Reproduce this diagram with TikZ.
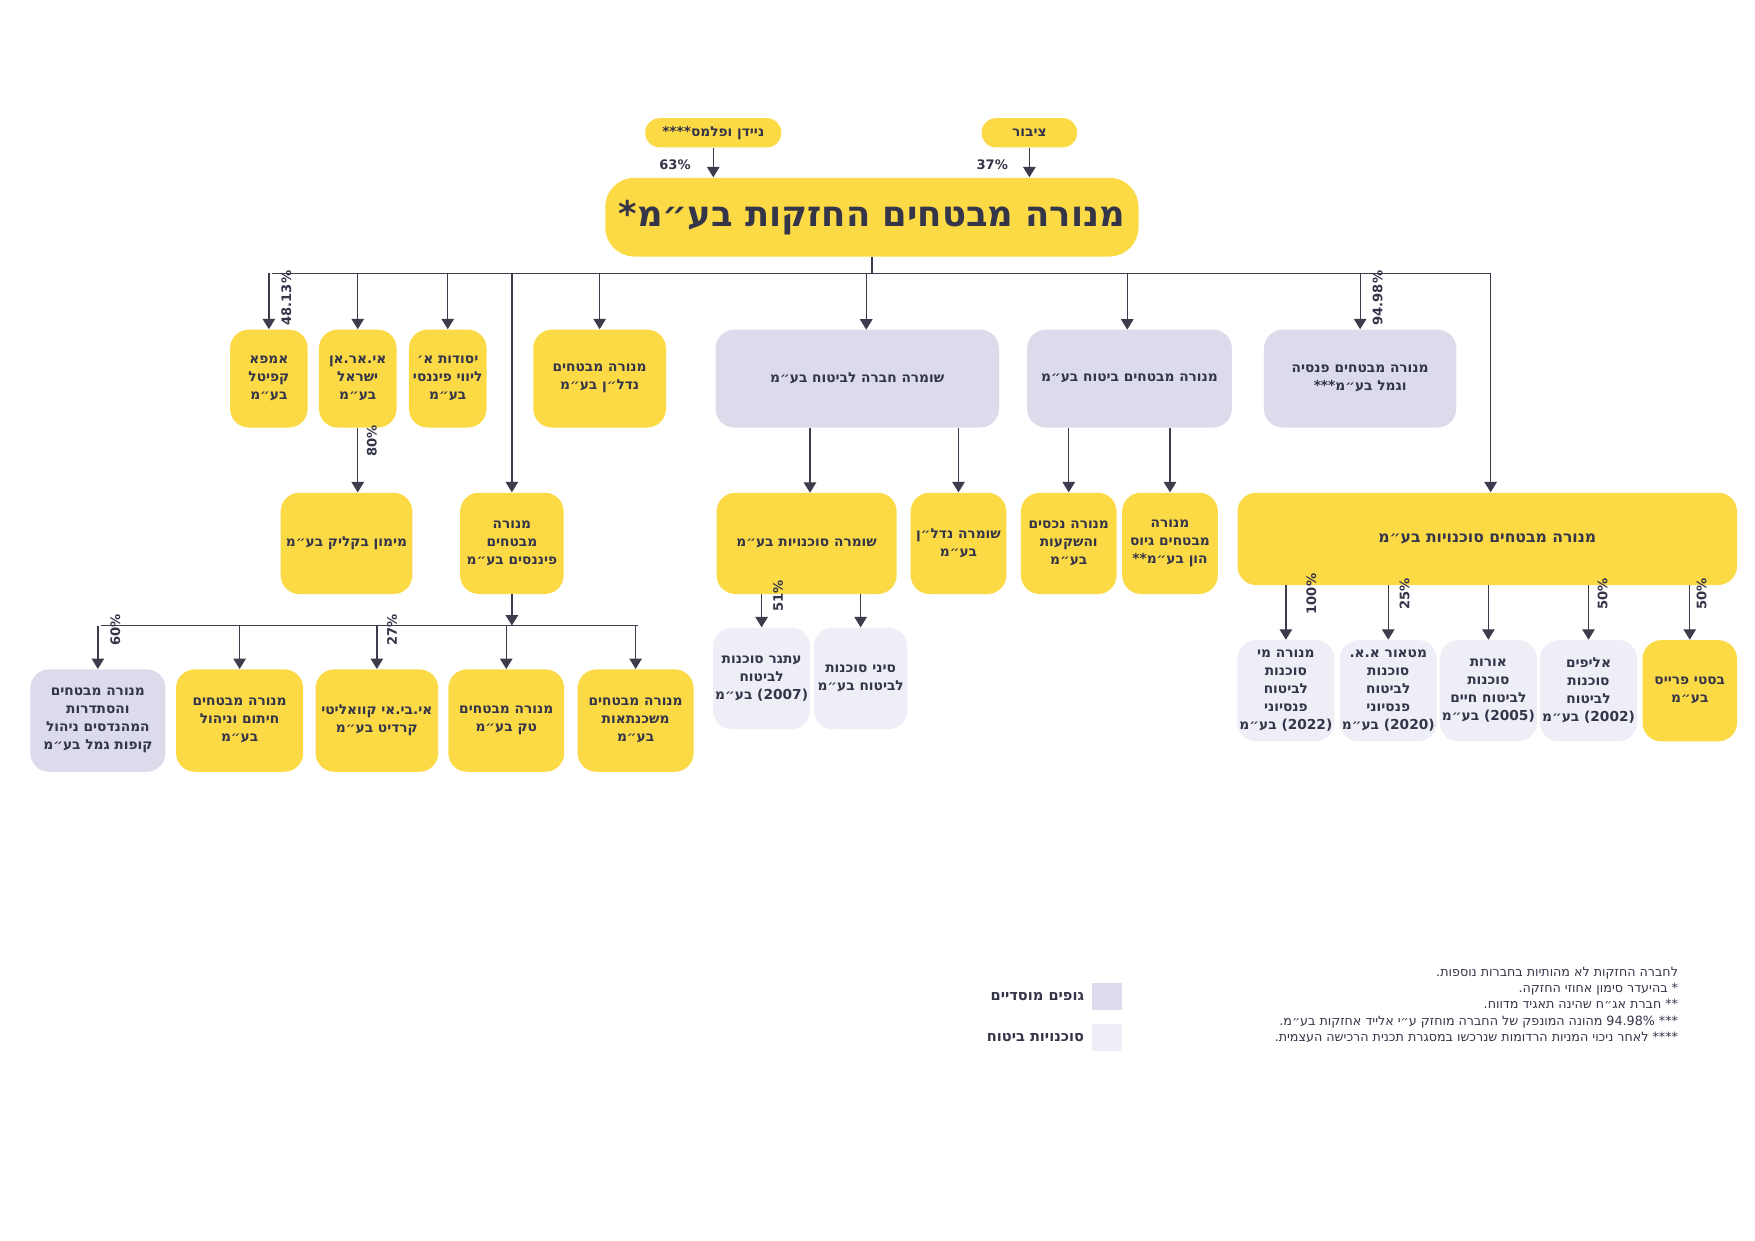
\documentclass[tikz,border=0pt]{standalone}
\usepackage{fontspec}
\setmainfont{DejaVu Sans}
\usepackage{xcolor}
\usetikzlibrary{arrows.meta}
\TeXXeTstate=1
\definecolor{mmyellow}{HTML}{FCDA45}
\definecolor{mmlav}{HTML}{DCDBEC}
\definecolor{mmpale}{HTML}{EDEEF6}
\definecolor{mmtext}{HTML}{35354A}
\definecolor{mmline}{HTML}{3C3C4C}
\newcommand{\heb}[1]{\beginR #1\endR}

\tikzset{
  box/.style={rounded corners=9pt, align=center, text=mmtext, inner sep=1pt,
    font=\bfseries\fontsize{6.6}{8.6}\selectfont},
  ybox/.style={box, fill=mmyellow},
  lbox/.style={box, fill=mmlav},
  pbox/.style={box, fill=mmpale},
  sz/.style 2 args={minimum width=#1*0.019cm, minimum height=#2*0.019cm},
  arr/.style={mmline, semithick, -{Triangle[length=5pt,width=6pt]}},
  bus/.style={mmline, semithick},
  pct/.style={rotate=90, font=\bfseries\fontsize{6.3}{7}\selectfont, text=mmtext, inner sep=1pt}
}

\begin{document}
\begin{tikzpicture}[x=0.019cm, y=-0.019cm]
\useasboundingbox[fill=white] (0,0) rectangle (1560,1103);

% owners
\node[ybox, sz={85}{26}, rounded corners=7pt] (zibur) at (915,118) {\heb{ציבור}};
\node[ybox, sz={121}{26}, rounded corners=7pt] (naydan) at (634,118) {\heb{ניידן ופלמס****}};
\node[box, fill=mmyellow, sz={474}{70}, rounded corners=14pt, font=\bfseries\fontsize{17}{20}\selectfont] (title) at (775,193) {\heb{מנורה מבטחים החזקות בע״מ*}};
\draw[arr] (naydan.south) -- (naydan.south |- title.north);
\draw[arr] (zibur.south) -- (zibur.south |- title.north);
\node[font=\bfseries\fontsize{6.3}{7}\selectfont, text=mmtext] (p63) at (600,146) {63\%};
\node[font=\bfseries\fontsize{6.3}{7}\selectfont, text=mmtext] (p37) at (882,146) {37\%};

% first level
\node[ybox, sz={69}{87}] (amfa) at (239,336.5) {\heb{אמפא}\\\heb{קפיטל}\\\heb{בע״מ}};
\node[ybox, sz={69}{87}] (iran) at (318,336.5) {\heb{אי.אר.אן}\\\heb{ישראל}\\\heb{בע״מ}};
\node[ybox, sz={69}{87}] (yesodot) at (398,336.5) {\heb{יסודות א׳}\\\heb{ליווי פיננסי}\\\heb{בע״מ}};
\node[ybox, sz={118}{87}] (nadlan) at (533,336.5) {\heb{מנורה מבטחים}\\\heb{נדל״ן בע״מ}};
\node[lbox, sz={252}{87}] (shomera) at (762,336.5) {\heb{שומרה חברה לביטוח בע״מ}};
\node[lbox, sz={182}{87}] (bituach) at (1004,336.5) {\heb{מנורה מבטחים ביטוח בע״מ}};
\node[lbox, sz={171}{87}] (pensia) at (1209,336.5) {\heb{מנורה מבטחים פנסיה}\\\heb{וגמל בע״מ***}};
\node[ybox, sz={92}{90}] (finance) at (455,483) {\heb{מנורה}\\\heb{מבטחים}\\\heb{פיננסים בע״מ}};
\node[ybox, sz={444}{82}, font=\bfseries\fontsize{7.5}{9}\selectfont] (sochnuyot) at (1322,479) {\heb{מנורה מבטחים סוכנויות בע״מ}};

\coordinate (busL) at (242,243);
\coordinate (busR) at (1325,243);
\draw[bus] (busL) -- (busR);
\draw[bus] (title.south) -- (title.south |- busL);
\foreach \n in {amfa,iran,yesodot,nadlan,pensia}
  \draw[arr] (\n.north |- busL) -- (\n.north);
\draw[arr] (770,243) -- (770,293);
\draw[arr] (1002,243) -- (1002,293);
\draw[arr] (finance.north |- busL) -- (finance.north);
\draw[arr] (busR) -- (sochnuyot.north -| busR);
\node[pct, anchor=north] (p48) at (248,265) {48.13\%};
\node[pct, anchor=north] (p94) at (1218,265) {94.98\%};

% second level
\node[ybox, sz={117}{90}] (mimun) at (308,483) {\heb{מימון בקליק בע״מ}};
\node[ybox, sz={160}{90}] (shomsoc) at (717,483) {\heb{שומרה סוכנויות בע״מ}};
\node[ybox, sz={85}{90}] (shomnad) at (852,483) {\heb{שומרה נדל״ן}\\\heb{בע״מ}};
\node[ybox, sz={85}{90}] (nechasim) at (950,483) {\heb{מנורה נכסים}\\\heb{והשקעות}\\\heb{בע״מ}};
\node[ybox, sz={85}{90}] (gius) at (1040,483) {\heb{מנורה}\\\heb{מבטחים גיוס}\\\heb{הון בע״מ**}};
\draw[arr] (iran.south) -- (iran.south |- mimun.north);
\node[pct, anchor=north] (p80) at (324,392) {80\%};
\draw[arr] (720,380) -- (720,438);
\draw[arr] (shomera.south -| shomnad) -- (shomnad.north);
\draw[arr] (bituach.south -| nechasim) -- (nechasim.north);
\draw[arr] (bituach.south -| gius) -- (gius.north);

% under finance
\node[lbox, sz={120}{91}] (gemel) at (87,640.5) {\heb{מנורה מבטחים}\\\heb{והסתדרות}\\\heb{המהנדסים ניהול}\\\heb{קופות גמל בע״מ}};
\node[ybox, sz={113}{91}] (hitum) at (213,640.5) {\heb{מנורה מבטחים}\\\heb{חיתום וניהול}\\\heb{בע״מ}};
\node[ybox, sz={109}{91}] (ibi) at (335,640.5) {\heb{אי.בי.אי קוואליטי}\\\heb{קרדיט בע״מ}};
\node[ybox, sz={103}{91}] (tech) at (450,640.5) {\heb{מנורה מבטחים}\\\heb{טק בע״מ}};
\node[ybox, sz={103}{91}] (mashk) at (565,640.5) {\heb{מנורה מבטחים}\\\heb{משכנתאות}\\\heb{בע״מ}};
\coordinate (fbus) at (455,556);
\draw[arr] (finance.south) -- (fbus);
\draw[bus] (90,556) -- (567,556);
\foreach \n in {gemel,hitum,ibi,tech,mashk}
  \draw[arr] (\n.north |- fbus) -- (\n.north);
\node[pct, anchor=north] (p60) at (96,560) {60\%};
\node[pct, anchor=north] (p27) at (342,560) {27\%};

% under shomera agencies
\node[pbox, sz={82}{90}] (atgar) at (677,603) {\heb{עתגר סוכנות}\\\heb{לביטוח}\\\heb{(2007) בע״מ}};
\node[pbox, sz={83}{90}] (sinai) at (765,603) {\heb{סיני סוכנות}\\\heb{לביטוח בע״מ}};
\draw[arr] (shomsoc.south -| atgar) -- (atgar.north);
\draw[arr] (shomsoc.south -| sinai) -- (sinai.north);
\node[pct, anchor=north] (p51) at (685,530) {51\%};

% under menora agencies
\node[pbox, sz={85}{90}] (menomy) at (1143,614) {\heb{מנורה מי}\\\heb{סוכנות}\\\heb{לביטוח}\\\heb{פנסיוני}\\\heb{(2022) בע״מ}};
\node[pbox, sz={84}{90}] (meteor) at (1234,614) {\heb{מטאור א.א.}\\\heb{סוכנות}\\\heb{לביטוח}\\\heb{פנסיוני}\\\heb{(2020) בע״מ}};
\node[pbox, sz={84}{90}] (orot) at (1323,614) {\heb{אורות}\\\heb{סוכנות}\\\heb{לביטוח חיים}\\\heb{(2005) בע״מ}};
\node[pbox, sz={85}{90}] (alifim) at (1412,614) {\heb{אליפים}\\\heb{סוכנות}\\\heb{לביטוח}\\\heb{(2002) בע״מ}};
\node[ybox, sz={84}{90}] (besti) at (1502,614) {\heb{בסטי פרייס}\\\heb{בע״מ}};
\foreach \n in {menomy,meteor,orot,alifim,besti}
  \draw[arr] (sochnuyot.south -| \n) -- (\n.north);
\node[pct, anchor=north] (p100) at (1159,528) {100\%};
\node[pct, anchor=north] (p25) at (1242,528) {25\%};
\node[pct, anchor=north] (p50a) at (1418,528) {50\%};
\node[pct, anchor=north] (p50b) at (1506,528) {50\%};

% legend
\node[fill=mmlav, minimum width=27*0.019cm, minimum height=24*0.019cm, inner sep=0pt] (leglav) at (984,886) {};
\node[fill=mmpale, minimum width=27*0.019cm, minimum height=24*0.019cm, inner sep=0pt] (legpale) at (984,922) {};
\node[anchor=east, text=mmtext, font=\bfseries\fontsize{7}{8}\selectfont] (leglavt) at (leglav.west) {\heb{גופים מוסדיים}};
\node[anchor=east, text=mmtext, font=\bfseries\fontsize{7}{8}\selectfont] (legpalet) at (legpale.west) {\heb{סוכנויות ביטוח}};

% footnotes
\node[anchor=north east, align=right, text=mmtext, inner sep=0pt, font=\fontsize{6.1}{7.9}\selectfont] (notes) at (1492,859) {%
\heb{לחברה החזקות לא מהותיות בחברות נוספות.}\\
\heb{* בהיעדר סימון אחוזי החזקה.}\\
\heb{** חברת אג״ח שהינה תאגיד מדווח.}\\
\heb{*** 94.98\% מהונה המונפק של החברה מוחזק ע״י אלייד אחזקות בע״מ.}\\
\heb{**** לאחר ניכוי המניות הרדומות שנרכשו במסגרת תכנית הרכישה העצמית.}};
\end{tikzpicture}
\end{document}
